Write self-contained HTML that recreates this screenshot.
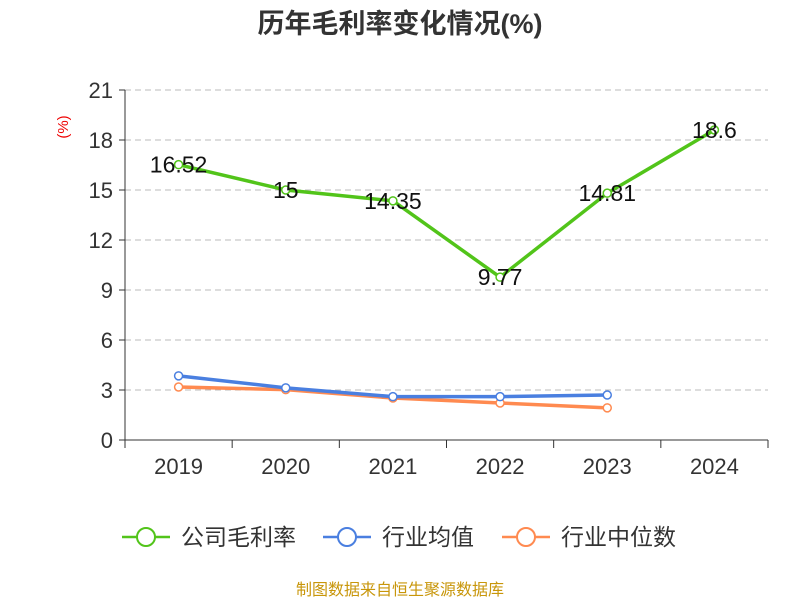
<!DOCTYPE html>
<html><head><meta charset="utf-8"><style>
body{margin:0;background:#fff;width:800px;height:600px;overflow:hidden;font-family:"Liberation Sans","Noto Sans CJK SC",sans-serif}
</style></head><body>
<svg id="c" width="800" height="600" xmlns="http://www.w3.org/2000/svg" style="font-family:'Liberation Sans','Noto Sans CJK SC',sans-serif">
<text x="400" y="33" text-anchor="middle" font-size="27" font-weight="bold" fill="#333">历年毛利率变化情况(%)</text>
<text x="68" y="127" font-size="15" fill="#e00" transform="rotate(-90 68 127)" text-anchor="middle">(%)</text>
<g id="grid"></g><g id="axes"></g><g id="series"></g>
<g>
<g><line x1="122" y1="537" x2="170" y2="537" stroke="#52c41a" stroke-width="2.5"/><circle cx="146" cy="537" r="9" fill="#fff" stroke="#52c41a" stroke-width="2"/><text x="181" y="545" font-size="23" fill="#333">公司毛利率</text></g>
<g><line x1="323" y1="537" x2="371" y2="537" stroke="#4a7fe0" stroke-width="2.5"/><circle cx="347" cy="537" r="9" fill="#fff" stroke="#4a7fe0" stroke-width="2"/><text x="382" y="545" font-size="23" fill="#333">行业均值</text></g>
<g><line x1="502" y1="537" x2="550" y2="537" stroke="#ff8a50" stroke-width="2.5"/><circle cx="526" cy="537" r="9" fill="#fff" stroke="#ff8a50" stroke-width="2"/><text x="561" y="545" font-size="23" fill="#333">行业中位数</text></g>
</g>
<text x="400" y="595" text-anchor="middle" font-size="16" fill="#c8960a">制图数据来自恒生聚源数据库</text>
</svg>
<script>
const categories=["2019","2020","2021","2022","2023","2024"];
const yTicks=[0,3,6,9,12,15,18,21];
const company=[16.52,15,14.35,9.77,14.81,18.6];
const companyLabels=["16.52","15","14.35","9.77","14.81","18.6"];
const industryAvg=[3.85,3.13,2.6,2.6,2.7,null];
const industryMedian=[3.18,3.02,2.52,2.22,1.93,null];
const L=125,R=768,T=90,B=440,NS="http://www.w3.org/2000/svg";
const bw=(R-L)/categories.length;
const x=i=>L+bw*(i+0.5), y=v=>B-(v/21)*(B-T);
function mk(t,a,p){const e=document.createElementNS(NS,t);for(const k in a)e.setAttribute(k,a[k]);p.appendChild(e);return e;}
const grid=document.getElementById('grid'),axes=document.getElementById('axes'),ser=document.getElementById('series');
yTicks.forEach(v=>{
 if(v>0){const g=mk('line',{x1:L,x2:R,y1:y(v),y2:y(v),stroke:'#bbb','stroke-dasharray':'6,4'},grid);
 
 }
 mk('line',{x1:L-6,x2:L,y1:y(v),y2:y(v),stroke:'#333'},axes);
 const t=mk('text',{x:L-12,y:y(v)+8,'text-anchor':'end','font-size':22,fill:'#333'},axes);t.textContent=v;
 
 
});
mk('line',{x1:L,x2:L,y1:T,y2:B,stroke:'#333'},axes);
mk('line',{x1:L,x2:R,y1:B,y2:B,stroke:'#333'},axes);
for(let i=0;i<=categories.length;i++)mk('line',{x1:L+bw*i,x2:L+bw*i,y1:B,y2:B+8,stroke:'#333'},axes);
categories.forEach((c,i)=>{const t=mk('text',{x:x(i),y:474,'text-anchor':'middle','font-size':22,fill:'#333'},axes);t.textContent=c;
 
 });
function draw(d,col,name,labels){
 const pts=d.map((v,i)=>v==null?null:[x(i),y(v)]).filter(p=>p);
 const pl=mk('polyline',{points:pts.map(p=>p.join(',')).join(' '),fill:'none',stroke:col,'stroke-width':3.5},ser);
 
 
 d.forEach((v,i)=>{if(v==null)return;
  const c=mk('circle',{cx:x(i),cy:y(v),r:4,fill:'#fff',stroke:col,'stroke-width':1.5},ser);
  
  
  if(labels){const t=mk('text',{x:x(i),y:y(v)+8,'text-anchor':'middle','font-size':23,fill:'#111'},ser);t.textContent=labels[i];
   
   }
 });
}
draw(industryMedian,'#ff8a50','industry-median');
draw(industryAvg,'#4a7fe0','industry-avg');
draw(company,'#52c41a','company',companyLabels);
</script>
</body></html>
